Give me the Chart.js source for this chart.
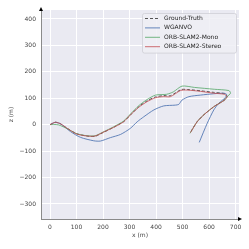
<!DOCTYPE html>
<html>
<head>
<meta charset="utf-8">
<script src="https://cdn.jsdelivr.net/npm/chart.js@4"></script>
<style>
  html, body { margin: 0; padding: 0; background: #fff; }
  #traj { display: block; }
</style>
</head>
<body>
<canvas id="traj" width="249" height="249"></canvas>
<script>
// trajectory data (x, z in metres)
const gtX = [0, 20, 40, 65, 100, 140, 170, 200, 240, 278, 305, 335, 366, 398, 430, 455, 495, 520, 570, 620, 660, 668, 658, 618, 580, 555, 532];
const gtZ = [0, 9, 3, -14, -34, -43, -44, -30, -10, 12, 38, 68, 90, 105, 110, 110, 133, 133, 128, 122, 117, 106, 93, 68, 37, 11, -25];

const wganX = [0, 20, 40, 77, 115, 165, 190, 228, 266, 303, 329, 354, 392, 429, 473, 486, 498, 524, 568, 618, 656, 666, 662, 637, 618, 593, 563];
const wganZ = [0, 9, 3, -26, -48, -61, -62, -49, -37, -14, 11, 30, 56, 71, 74, 77, 93, 106, 112, 117, 119, 115, 103, 81, 56, 5, -67];

const monoX = [0, 14, 33, 65, 100, 140, 170, 200, 240, 278, 305, 335, 366, 398, 440, 465, 498, 545, 620, 675, 681, 668, 658, 618, 580, 555, 528];
const monoZ = [0, 1, -1, -15, -34, -42, -42, -28, -8, 14, 42, 72, 95, 112, 115, 124, 146, 141, 134, 129, 119, 106, 93, 68, 37, 11, -33];

const stereoX = [0, 20, 40, 65, 100, 140, 170, 200, 240, 278, 303, 335, 366, 398, 429, 454, 492, 517, 568, 618, 658, 668, 658, 618, 580, 555, 530];
const stereoZ = [0, 9, 3, -14, -35, -43, -43, -29, -10, 11, 37, 66, 87, 102, 106, 106, 129, 131, 126, 119, 115, 106, 93, 68, 37, 11, -30];

const xTicks = [0, 100, 200, 300, 400, 500, 600, 700];
const zTicks = [-300, -200, -100, 0, 100, 200, 300, 400];

const toPts = (xs, zs) => xs.map((x, i) => ({ x: x, y: zs[i] }));
const fmt = v => (v < 0 ? '\u2212' + Math.abs(v) : String(v));

const tickFont = { family: 'DejaVu Sans', size: 6 };

// legend drawn inside the plot, top right
const boxLegend = {
    id: 'boxLegend',
    afterDraw(chart) {
        const ctx = chart.ctx;
        const area = chart.chartArea;
        const sets = chart.data.datasets;
        const w = 94, rowH = 9.4;
        const h = sets.length * rowH + 2;
        const x0 = area.right - w - 3;
        const y0 = area.top + 3;
        ctx.save();
        ctx.fillStyle = 'rgba(238,238,245,0.85)';
        ctx.strokeStyle = '#cfcfd6';
        ctx.lineWidth = 0.8;
        ctx.beginPath();
        ctx.roundRect(x0 + 0.5, y0 + 0.5, w, h, 2);
        ctx.fill();
        ctx.stroke();
        ctx.font = '6px "DejaVu Sans"';
        ctx.textBaseline = 'middle';
        sets.forEach((ds, i) => {
            const y = y0 + 5.5 + i * rowH;
            ctx.strokeStyle = ds.borderColor;
            ctx.lineWidth = 1;
            ctx.setLineDash(ds.borderDash || []);
            ctx.beginPath();
            ctx.moveTo(x0 + 3, y);
            ctx.lineTo(x0 + 18, y);
            ctx.stroke();
            ctx.setLineDash([]);
            ctx.fillStyle = '#262626';
            ctx.fillText(ds.label, x0 + 22, y);
        });
        ctx.restore();
    }
};

// arrow heads at the ends of the spines
const axisArrows = {
    id: 'axisArrows',
    afterDraw(chart) {
        const ctx = chart.ctx;
        const a = chart.chartArea;
        ctx.save();
        ctx.fillStyle = '#000';
        ctx.beginPath();
        ctx.moveTo(a.left, a.top - 3);
        ctx.lineTo(a.left - 2, a.top + 1);
        ctx.lineTo(a.left + 2, a.top + 1);
        ctx.closePath();
        ctx.fill();
        ctx.beginPath();
        ctx.moveTo(a.right + 3, a.bottom);
        ctx.lineTo(a.right - 1, a.bottom - 2);
        ctx.lineTo(a.right - 1, a.bottom + 2);
        ctx.closePath();
        ctx.fill();
        ctx.restore();
    }
};

const plotBg = {
    id: 'plotBg',
    beforeDraw(chart) {
        const a = chart.chartArea;
        chart.ctx.save();
        chart.ctx.fillStyle = '#eaeaf2';
        chart.ctx.fillRect(a.left, a.top, a.right - a.left, a.bottom - a.top);
        chart.ctx.restore();
    }
};

new Chart(document.getElementById('traj'), {
    type: 'scatter',
    data: {
        datasets: [
            { label: 'Ground-Truth', data: toPts(gtX, gtZ), borderColor: '#555555', borderDash: [3, 2], order: 4 },
            { label: 'WGANVO', data: toPts(wganX, wganZ), borderColor: 'rgba(76,114,176,0.85)', order: 3 },
            { label: 'ORB-SLAM2-Mono', data: toPts(monoX, monoZ), borderColor: 'rgba(85,168,104,0.8)', order: 2 },
            { label: 'ORB-SLAM2-Stereo', data: toPts(stereoX, stereoZ), borderColor: 'rgba(196,78,82,0.8)', order: 1 }
        ].map(ds => Object.assign({
            showLine: true,
            borderWidth: 1,
            pointRadius: 0,
            tension: 0.25,
            backgroundColor: 'transparent'
        }, ds))
    },
    options: {
        responsive: false,
        animation: false,
        devicePixelRatio: 1,
        layout: { padding: { top: 10, right: 10, left: 0, bottom: 0 } },
        plugins: { legend: { display: false }, tooltip: { enabled: false } },
        scales: {
            x: {
                type: 'linear',
                min: -34,
                max: 713,
                afterBuildTicks: s => { s.ticks = xTicks.map(v => ({ value: v })); },
                afterFit: s => { s.height = 30; },
                grid: { color: '#ffffff', lineWidth: 1, drawTicks: false },
                border: { color: '#8a8a8a', width: 1 },
                ticks: { font: tickFont, color: '#444', padding: 5, maxRotation: 0, callback: v => fmt(v) },
                title: { display: true, text: 'x (m)', font: tickFont, color: '#444', padding: { top: 0, bottom: 10 } }
            },
            y: {
                type: 'linear',
                min: -357,
                max: 434,
                afterBuildTicks: s => { s.ticks = zTicks.map(v => ({ value: v })); },
                afterFit: s => { s.width = 41; },
                grid: { color: '#ffffff', lineWidth: 1, drawTicks: false },
                border: { color: '#8a8a8a', width: 1 },
                ticks: { font: tickFont, color: '#444', padding: 5, callback: v => fmt(v) },
                title: { display: true, text: 'z (m)', font: tickFont, color: '#444', padding: { top: 8 } }
            }
        }
    },
    plugins: [plotBg, boxLegend, axisArrows]
});
</script>
</body>
</html>
